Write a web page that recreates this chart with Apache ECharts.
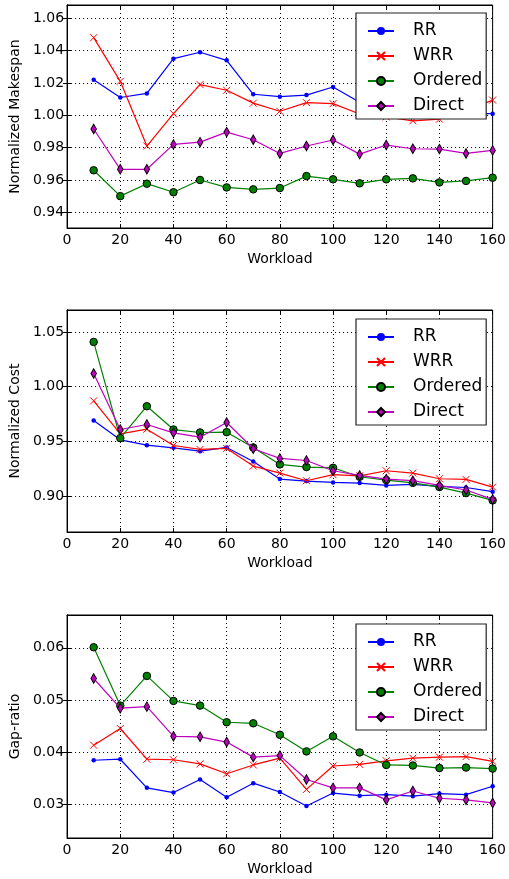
<!DOCTYPE html>
<html><head><meta charset="utf-8">
<script src="https://cdn.jsdelivr.net/npm/echarts@6/dist/echarts.min.js"></script>
<style>html,body{margin:0;padding:0;background:#fff}#c{width:509px;height:879px}</style>
</head><body><div id="c"></div>
<script>
// ---- data ----
const workload = [10,20,30,40,50,60,70,80,90,100,110,120,130,140,150,160];
const seriesNames = ['RR','WRR','Ordered','Direct'];
const yTitles = ['Normalized Makespan','Normalized Cost','Gap-ratio'];
const xTitle = 'Workload';

const makespanRR      = [1.022,1.011,1.0135,1.035,1.039,1.034,1.013,1.0115,1.0125,1.0175,1.008,1.006,1.004,1.002,1.001,1.001];
const makespanWRR     = [1.048,1.021,0.981,1.001,1.019,1.0155,1.0075,1.0025,1.0078,1.0072,1.0008,0.999,0.9966,0.9976,1.003,1.0094];
const makespanOrdered = [0.966,0.950,0.9577,0.9524,0.960,0.9554,0.9542,0.955,0.9624,0.9604,0.9579,0.9604,0.961,0.9585,0.9594,0.9614];
const makespanDirect  = [0.9915,0.9666,0.9666,0.982,0.9834,0.9896,0.9849,0.9764,0.981,0.9847,0.976,0.9816,0.9793,0.9791,0.9764,0.9783];

const costRR      = [0.9691,0.9514,0.9465,0.9441,0.941,0.9444,0.9316,0.9155,0.9137,0.9124,0.9118,0.9097,0.9106,0.9088,0.9078,0.904];
const costWRR     = [0.987,0.9569,0.9611,0.9462,0.9426,0.9435,0.9274,0.921,0.914,0.9195,0.9185,0.9231,0.921,0.9158,0.9152,0.9082];
const costOrdered = [1.0409,0.9529,0.9821,0.9608,0.9581,0.9584,0.9444,0.9289,0.9265,0.9258,0.9176,0.9146,0.9121,0.9082,0.9027,0.896];
const costDirect  = [1.012,0.9608,0.9654,0.9578,0.9538,0.9672,0.9432,0.9344,0.9325,0.9231,0.9188,0.9155,0.914,0.9097,0.9055,0.8969];

const gapRR      = [0.0384,0.0386,0.0331,0.0322,0.0347,0.0313,0.034,0.0323,0.0296,0.0321,0.0316,0.0318,0.0315,0.032,0.0318,0.0334];
const gapWRR     = [0.0413,0.0445,0.0386,0.0385,0.0377,0.0358,0.0375,0.0388,0.0328,0.0373,0.0376,0.0383,0.0388,0.039,0.0391,0.0382];
const gapOrdered = [0.0601,0.0489,0.0546,0.0498,0.0489,0.0457,0.0455,0.0433,0.0401,0.043,0.0399,0.0375,0.0374,0.0369,0.037,0.0368];
const gapDirect  = [0.0541,0.0484,0.0487,0.043,0.0429,0.0419,0.039,0.0393,0.0347,0.0331,0.0331,0.0308,0.0325,0.0311,0.0308,0.0302];

const makespanTicks = [0.94,0.96,0.98,1.00,1.02,1.04,1.06];
const costTicks = [0.90,0.95,1.00,1.05];
const gapTicks = [0.03,0.04,0.05,0.06];
const xMin = 0, xMax = 160, xStep = 20;

const panelValues = [
  [makespanRR, makespanWRR, makespanOrdered, makespanDirect],
  [costRR, costWRR, costOrdered, costDirect],
  [gapRR, gapWRR, gapOrdered, gapDirect]
];
const panelTicks = [makespanTicks, costTicks, gapTicks];
const yRanges = [[0.9303,1.0682],[0.8671,1.0701],[0.02347,0.0663]];

// ---- layout / style ----
const grids = [
  {left:64, right:15, top:5, height:223},
  {left:64, right:15, top:310, height:222},
  {left:64, right:15, top:615, height:223}
];
const legendTops = [13, 319, 624];
const font = 'DejaVu Sans';
const styles = [
  {color:'#0000ff', symbol:'circle', symbolSize:4.5, itemStyle:{color:'#0000ff', borderWidth:0}},
  {color:'#ff0000', symbol:'path://M0,0L10,10M10,0L0,10', symbolSize:7, itemStyle:{color:'#ff0000', borderColor:'#ff0000', borderWidth:1}},
  {color:'#008000', symbol:'circle', symbolSize:7.5, itemStyle:{color:'#008000', borderColor:'#000', borderWidth:1}},
  {color:'#bf00bf', symbol:'diamond', symbolSize:[5.5,9.5], itemStyle:{color:'#bf00bf', borderColor:'#000', borderWidth:1}}
];

const xAxes = [], yAxes = [], series = [], legends = [];
grids.forEach((g, i) => {
  g.show = true; g.borderColor = '#000'; g.borderWidth = 1; g.backgroundColor = '#fff';
  const tickStyle = {show:true, inside:true, length:4, lineStyle:{color:'#000', width:1}};
  xAxes.push({
    type:'value', gridIndex:i, min:xMin, max:xMax, interval:xStep, position:'bottom',
    name:xTitle, nameLocation:'middle', nameGap:24,
    nameTextStyle:{fontFamily:font, fontSize:14, color:'#000'},
    axisLine:{show:true, lineStyle:{color:'#000', width:1}},
    axisTick:tickStyle,
    axisLabel:{fontFamily:font, fontSize:14, color:'#000', margin:5},
    splitLine:{show:true, lineStyle:{color:'#000', width:1, type:[1,3]}}
  });
  xAxes.push({
    type:'value', gridIndex:i, min:xMin, max:xMax, interval:xStep, position:'top',
    axisLine:{show:true, lineStyle:{color:'#000', width:1}},
    axisTick:tickStyle, axisLabel:{show:false}, splitLine:{show:false}
  });
  const ticks = panelTicks[i];
  yAxes.push({
    type:'value', gridIndex:i, min:yRanges[i][0], max:yRanges[i][1], position:'left',
    name:yTitles[i], nameLocation:'middle', nameGap:43,
    nameTextStyle:{fontFamily:font, fontSize:14, color:'#000'},
    axisLine:{show:true, lineStyle:{color:'#000', width:1}},
    axisTick:Object.assign({customValues:ticks}, tickStyle),
    axisLabel:{customValues:ticks, fontFamily:font, fontSize:14, color:'#000', margin:3,
      formatter:(v)=>v.toFixed(2)},
    splitLine:{show:true, lineStyle:{color:'#000', width:1, type:[1,3]}}
  });
  yAxes.push({
    type:'value', gridIndex:i, min:yRanges[i][0], max:yRanges[i][1], position:'right',
    axisLine:{show:true, lineStyle:{color:'#000', width:1}},
    axisTick:Object.assign({customValues:ticks}, tickStyle),
    axisLabel:{show:false}, splitLine:{show:false}
  });
  panelValues[i].forEach((vals, k) => {
    const st = styles[k];
    series.push({
      type:'line', name:seriesNames[k], xAxisIndex:2*i, yAxisIndex:2*i,
      data: workload.map((w, j) => [w, vals[j]]),
      symbol:st.symbol, symbolSize:st.symbolSize, showAllSymbol:true,
      lineStyle:{color:st.color, width:1.2},
      itemStyle:st.itemStyle,
      emphasis:{disabled:true}, animation:false, z:2+k
    });
  });
  legends.push({
    orient:'vertical', left:356, top:legendTops[i],
    data:seriesNames,
    itemWidth:26, itemHeight:10, itemGap:5,
    padding:[8,4,3,11],
    backgroundColor:'#fff', borderColor:'#222', borderWidth:1.2, borderRadius:0,
    textStyle:{fontFamily:font, fontSize:17, color:'#000', lineHeight:20, padding:[0,0,0,14]},
    selectedMode:false, z:10
  });
});

const chart = echarts.init(document.getElementById('c'), null, {renderer:'canvas'});
chart.setOption({
  backgroundColor:'#fff', animation:false,
  grid:grids, xAxis:xAxes, yAxis:yAxes, legend:legends, series:series
});
</script></body></html>
